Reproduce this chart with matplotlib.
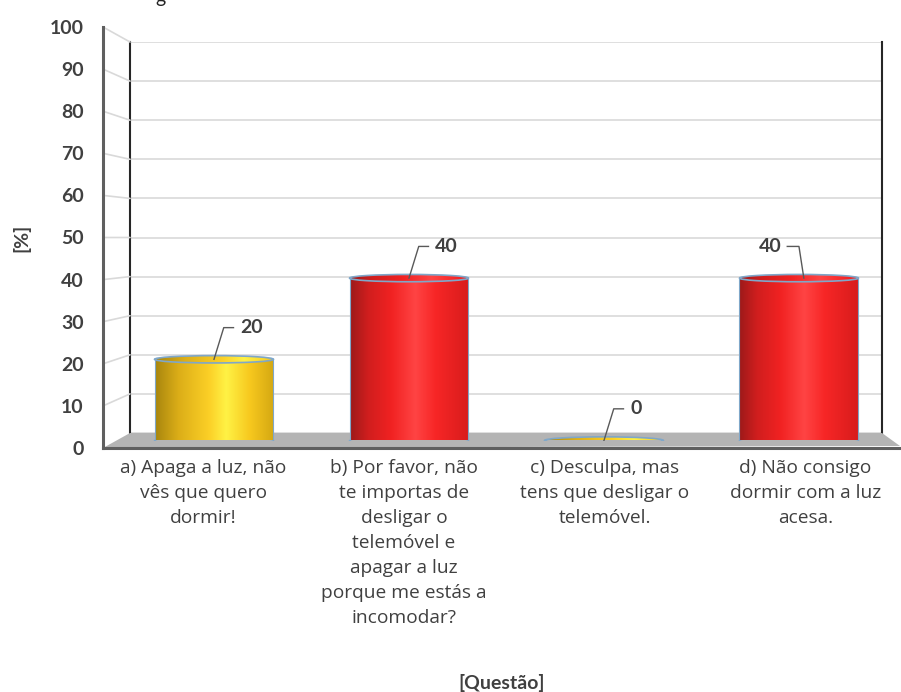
import numpy as np
import matplotlib
matplotlib.use("Agg")
import matplotlib.pyplot as plt
from matplotlib.colors import LinearSegmentedColormap
from matplotlib.patches import Ellipse, Polygon, ConnectionPatch

plt.rcParams['font.family'] = ['Lato', 'DejaVu Sans']

# dados
categorias = [
    "a) Apaga a luz, não\nvês que quero\ndormir!",
    "b) Por favor, não\nte importas de\ndesligar o\ntelemóvel e\napagar a luz\nporque me estás a\nincomodar?",
    "c) Desculpa, mas\ntens que desligar o\ntelemóvel.",
    "d) Não consigo\ndormir com a luz\nacesa.",
]
valores = [20, 40, 0, 40]
serie_cor = ['amarelo', 'vermelho', 'amarelo', 'vermelho']
yticks = list(range(0, 101, 10))

# lado do rótulo de dados (1 = direita, -1 = esquerda)
lado_rotulo = [1, 1, 1, -1]

TXT = '#404040'
EDGE = '#7fa7c9'
mapas = {
    'amarelo': LinearSegmentedColormap.from_list('am', [
        (0.0, '#a8860e'), (0.2, '#dcae18'), (0.45, '#fbcf26'),
        (0.6, '#fff245'), (0.8, '#f7c81e'), (1.0, '#d4a812')]),
    'vermelho': LinearSegmentedColormap.from_list('vm', [
        (0.0, '#9c1a1a'), (0.15, '#d01e1e'), (0.35, '#f12222'),
        (0.55, '#ff4444'), (0.72, '#f72626'), (1.0, '#d81c1c')]),
}
grad = np.linspace(0, 1, 256).reshape(1, -1)

W, H = 901, 692


def caixa(l, t, r, b):
    return [l / W, 1 - b / H, (r - l) / W, (b - t) / H]


def fpt(x, y):
    return (x / W, 1 - y / H)


fig = plt.figure(figsize=(W / 100, H / 100), dpi=100)
fig.patch.set_facecolor('white')

XLIM = (-0.5, 3.472)

# parede do fundo
ax_back = fig.add_axes(caixa(130, 42, 882, 433), zorder=0)
ax_back.set_xlim(XLIM)
ax_back.set_ylim(0, 100)
ax_back.set_yticks(yticks)
ax_back.set_xticks([])
ax_back.tick_params(length=0, labelleft=False)
ax_back.grid(axis='y', color='#d9d9d9', lw=1.2)
for s in ['top', 'bottom']:
    ax_back.spines[s].set_visible(False)
for s in ['left', 'right']:
    ax_back.spines[s].set_color('#262626')
    ax_back.spines[s].set_linewidth(1.5)

# chão
chao = Polygon([fpt(130, 433), fpt(882, 433), fpt(900, 446), fpt(103, 448)],
               closed=True, transform=fig.transFigure, fc='#b4b4b4', ec='none', zorder=0.5)
fig.add_artist(chao)

# plano da frente (eixo y e rótulos das categorias)
ax_front = fig.add_axes(caixa(103, 27, 900, 448), zorder=1)
ax_front.set_facecolor('none')
ax_front.set_xlim(XLIM)
ax_front.set_ylim(0, 100)
ax_front.set_yticks(yticks)
ax_front.set_yticklabels([str(t) for t in yticks], fontsize=14, fontweight='bold', color=TXT)
ax_front.set_xticks(range(len(categorias)))
ax_front.set_xticklabels(categorias, fontsize=13.8, color=TXT, linespacing=1.5,
                         va='top', family=['Open Sans', 'DejaVu Sans'])
ax_front.tick_params(axis='y', length=0, pad=14)
ax_front.tick_params(axis='x', length=0, pad=8)
for s in ['top', 'right']:
    ax_front.spines[s].set_visible(False)
for s in ['left', 'bottom']:
    ax_front.spines[s].set_color('#5f5f5f')
    ax_front.spines[s].set_linewidth(2.2)
ax_front.set_ylabel('[%]', fontsize=14, fontweight='bold', color=TXT, labelpad=14)
ax_front.set_xlabel('[Questão]', fontsize=14, fontweight='bold', color=TXT, labelpad=34)

# linhas da parede lateral
for v in yticks[1:]:
    con = ConnectionPatch(xyA=(0, v), coordsA=ax_front.get_yaxis_transform(),
                          xyB=(0, v), coordsB=ax_back.get_yaxis_transform(),
                          color='#d9d9d9', lw=1.2, zorder=0.6)
    fig.add_artist(con)

# plano das barras
ax = fig.add_axes(caixa(116.5, 34.5, 891, 440.5), zorder=2)
ax.set_facecolor('none')
ax.axis('off')


def cilindro(x, v, cmap, w=0.305, eh=1.8):
    t = np.linspace(np.pi, 2 * np.pi, 80)
    bx = x + w * np.cos(t)
    by = eh / 2 * np.sin(t)
    if v > 0:
        corpo = Polygon(list(zip(bx, by)) + [(x + w, v), (x - w, v)],
                        closed=True, fc='none', ec='none')
        ax.add_patch(corpo)
        im = ax.imshow(grad, cmap=cmap, extent=(x - w, x + w, -eh, v + eh),
                       aspect='auto', origin='lower', zorder=3, interpolation='bilinear')
        im.set_clip_path(corpo)
        ax.plot(bx, by, color=EDGE, lw=1, zorder=4)
        ax.plot([x - w, x - w], [0, v], color=EDGE, lw=0.8, zorder=4)
        ax.plot([x + w, x + w], [0, v], color=EDGE, lw=0.8, zorder=4)
    topo = Ellipse((x, v), 2 * w, eh, fc='none', ec=EDGE, lw=1.2, zorder=5)
    ax.add_patch(topo)
    # a face de cima fica um pouco mais escura
    im2 = ax.imshow(grad * 0.8, cmap=cmap, extent=(x - w, x + w, v - eh / 2, v + eh / 2),
                    aspect='auto', zorder=4.5, interpolation='bilinear', vmin=0, vmax=1)
    im2.set_clip_path(topo)


for i, v in enumerate(valores):
    cilindro(i, v, mapas[serie_cor[i]])
    s = lado_rotulo[i]
    dy = 7.8
    if s > 0:
        lx = [i, i + 0.05, i + 0.1]
        tx = i + 0.135
    else:
        lx = [i + 0.025, i, i - 0.06]
        tx = i - 0.09
    ax.plot(lx, [v, v + dy, v + dy], color='#595959', lw=1, zorder=6)
    ax.text(tx, v + dy, str(v), ha='left' if s > 0 else 'right', va='center',
            fontsize=14, fontweight='bold', color=TXT, zorder=6)

ax.set_xlim(XLIM)
ax.set_ylim(0, 100)

# resto do título cortado no topo
fig.text(155 / W, 1 - 3 / H, 'g', fontsize=14, color='#222222', va='baseline')

fig.savefig('out.png', dpi=100)
